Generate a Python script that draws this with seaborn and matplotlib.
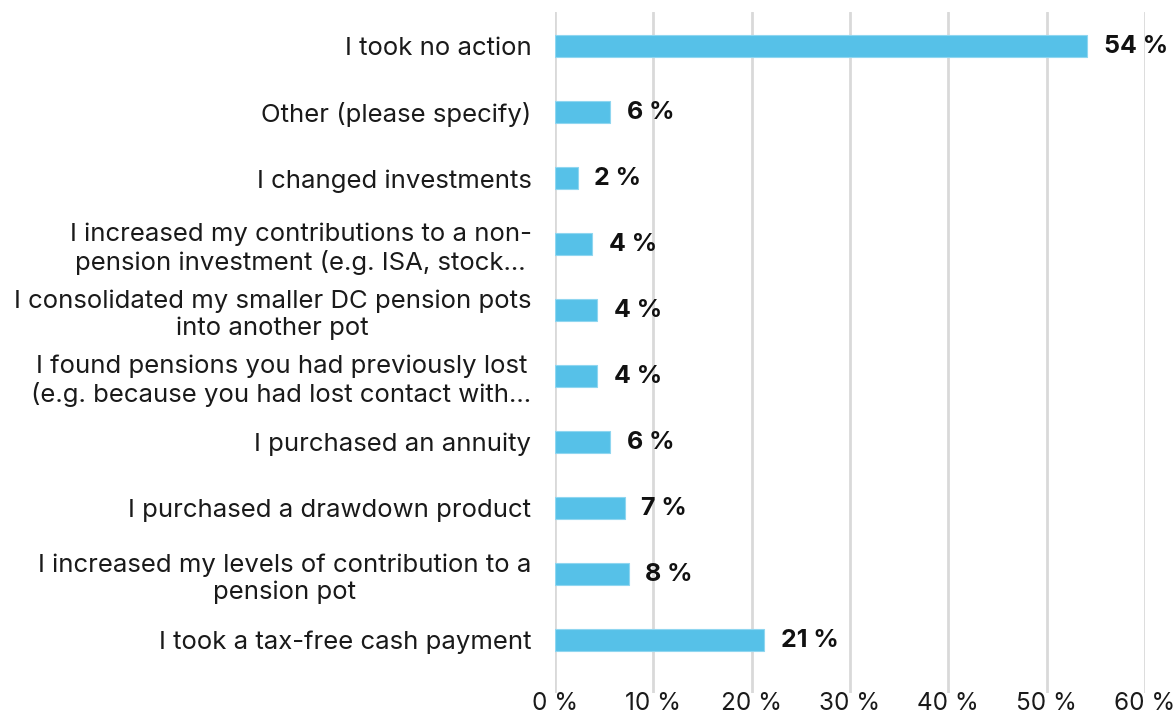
import matplotlib
matplotlib.use("Agg")
import matplotlib.pyplot as plt
import seaborn as sns
import pandas as pd

categories = [
    "I took no action",
    "Other (please specify)",
    "I changed investments",
    "I increased my contributions to a non-\npension investment (e.g. ISA, stock…",
    "I consolidated my smaller DC pension pots\ninto another pot",
    "I found pensions you had previously lost\n(e.g. because you had lost contact with…",
    "I purchased an annuity",
    "I purchased a drawdown product",
    "I increased my levels of contribution to a\npension pot",
    "I took a tax-free cash payment",
]
values = [54.1, 5.6, 2.3, 3.8, 4.3, 4.3, 5.6, 7.1, 7.5, 21.3]
value_labels = ["54 %", "6 %", "2 %", "4 %", "4 %", "4 %", "6 %", "7 %", "8 %", "21 %"]
x_ticks = [0, 10, 20, 30, 40, 50, 60]
x_tick_labels = ["0 %", "10 %", "20 %", "30 %", "40 %", "50 %", "60 %"]

sns.set_theme(style="white")
plt.rcParams["font.family"] = ["Inter", "DejaVu Sans"]

df = pd.DataFrame({"category": categories, "value": values})

fig = plt.figure(figsize=(11.76, 7.15), dpi=100)
ax = fig.add_axes([555 / 1176, 22 / 715, (1145 - 555) / 1176, (703 - 22) / 715])

sns.barplot(data=df, y="category", x="value", orient="h", color="#56C1E8",
            width=0.33, edgecolor="#8FD6F0", linewidth=0.8, ax=ax, saturation=1)

ax.set_xlim(0, 60)
ax.set_ylim(9.8, -0.52)
ax.set_xticks(x_ticks)
ax.set_xticklabels(x_tick_labels, fontsize=17.5, color="#1a1a1a")
ax.xaxis.grid(True, color="#D9D9D9", linewidth=2)
ax.set_axisbelow(True)
for s in ax.spines.values():
    s.set_visible(False)
ax.tick_params(axis="both", length=0)
ax.tick_params(axis="x", pad=-1)
ax.tick_params(axis="y", pad=17)
for lbl in ax.get_yticklabels():
    lbl.set_multialignment("center")
    lbl.set_fontsize(18.5)
    lbl.set_color("#1a1a1a")
ax.set_xlabel("")
ax.set_ylabel("")

ax.bar_label(ax.containers[0], labels=value_labels, padding=12,
             fontsize=18, fontweight="bold", color="#111111")

fig.savefig("out.png", dpi=100)
